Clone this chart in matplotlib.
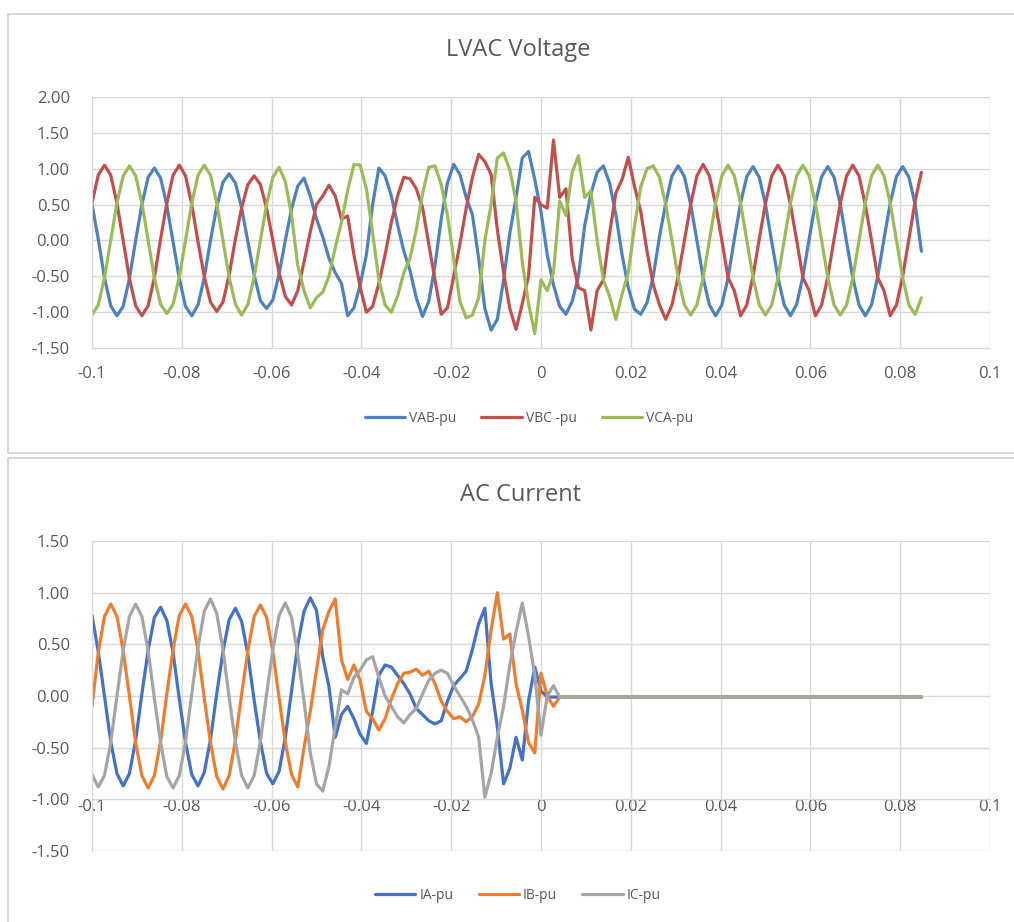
import matplotlib.pyplot as plt
import numpy as np

plt.rcParams['font.family'] = ['Open Sans', 'DejaVu Sans']

# sample spacing of the recording (30 electrical degrees at 60 Hz)
STEP = 1.0 / 720
T_START = -0.1

# LVAC voltage, per unit, one value per sample
vab = [0.50, 0.02, -0.52, -0.91, -1.05, -0.92, -0.53, 0.00, 0.50, 0.88,
       1.01, 0.87, 0.49, -0.02, -0.53, -0.92, -1.05, -0.90, -0.52, 0.00,
       0.47, 0.81, 0.93, 0.80, 0.45, -0.02, -0.48, -0.84, -0.95, -0.83,
       -0.47, 0.00, 0.44, 0.76, 0.87, 0.62, 0.30, 0.05, -0.25, -0.45,
       -0.60, -1.05, -0.94, -0.62, -0.20, 0.50, 1.01, 0.90, 0.62, 0.22,
       -0.15, -0.42, -0.80, -1.06, -0.85, -0.35, 0.30, 0.80, 1.06, 0.92,
       0.60, 0.36, -0.25, -0.95, -1.25, -1.10, -0.55, 0.10, 0.60, 1.15,
       1.24, 0.85, 0.40, -0.20, -0.62, -0.92, -1.03, -0.85, -0.50, 0.20,
       0.65, 0.95, 1.04, 0.80, 0.36, -0.20, -0.66, -0.96, -1.03, -0.87,
       -0.50, 0.05, 0.52, 0.90, 1.04, 0.89, 0.50, 0.00, -0.52, -0.90,
       -1.05, -0.90, -0.52, 0.02, 0.52, 0.89, 1.03, 0.88, 0.50, -0.02,
       -0.52, -0.90, -1.05, -0.89, -0.50, 0.02, 0.52, 0.89, 1.03, 0.88,
       0.50, -0.02, -0.52, -0.90, -1.05, -0.90, -0.50, 0.02, 0.52, 0.89,
       1.03, 0.88, 0.50, -0.15]
vbc = [0.52, 0.91, 1.05, 0.91, 0.52, 0.00, -0.53, -0.91, -1.05, -0.91,
       -0.52, 0.02, 0.52, 0.91, 1.05, 0.90, 0.50, -0.02, -0.50, -0.86,
       -0.99, -0.86, -0.48, 0.02, 0.46, 0.78, 0.90, 0.78, 0.45, 0.00,
       -0.45, -0.78, -0.90, -0.70, -0.30, 0.12, 0.50, 0.62, 0.77, 0.62,
       0.30, 0.34, -0.20, -0.65, -1.00, -0.92, -0.60, -0.20, 0.25, 0.62,
       0.88, 0.86, 0.72, 0.46, -0.05, -0.55, -1.03, -0.94, -0.50, -0.05,
       0.45, 0.88, 1.20, 1.10, 0.92, 0.15, -0.45, -0.95, -1.24, -0.88,
       -0.50, 0.60, 0.50, 0.45, 1.40, 0.60, 0.72, -0.25, -0.66, -0.70,
       -1.25, -0.70, -0.55, 0.10, 0.66, 0.85, 1.16, 0.75, 0.40, -0.15,
       -0.62, -0.90, -1.10, -0.90, -0.50, 0.00, 0.50, 0.90, 1.06, 0.90,
       0.50, 0.00, -0.52, -0.70, -1.05, -0.90, -0.50, 0.02, 0.52, 0.90,
       1.05, 0.90, 0.50, 0.00, -0.52, -0.70, -1.05, -0.90, -0.50, 0.02,
       0.52, 0.90, 1.05, 0.90, 0.50, 0.00, -0.52, -0.70, -1.05, -0.90,
       -0.50, 0.02, 0.55, 0.95]
vca = [-1.04, -0.90, -0.52, 0.00, 0.52, 0.90, 1.04, 0.90, 0.52, 0.00,
       -0.52, -0.89, -1.02, -0.89, -0.51, 0.00, 0.52, 0.91, 1.05, 0.91,
       0.52, 0.00, -0.52, -0.89, -1.04, -0.89, -0.51, 0.00, 0.50, 0.88,
       1.02, 0.82, 0.35, -0.35, -0.70, -0.94, -0.80, -0.72, -0.50, -0.10,
       0.25, 0.70, 1.06, 1.05, 0.72, 0.10, -0.55, -0.90, -1.00, -0.78,
       -0.45, -0.25, 0.15, 0.65, 1.02, 1.04, 0.78, 0.35, -0.25, -0.85,
       -1.08, -1.04, -0.80, 0.00, 0.50, 1.15, 1.22, 0.98, 0.55, -0.30,
       -0.88, -1.30, -0.55, -0.70, -0.45, 0.55, 0.35, 0.95, 1.18, 0.60,
       0.69, 0.00, -0.55, -0.78, -1.10, -0.75, -0.45, 0.20, 0.75, 1.00,
       1.04, 0.88, 0.50, 0.00, -0.52, -0.90, -1.04, -0.90, -0.52, 0.00,
       0.52, 0.90, 1.05, 0.90, 0.52, 0.00, -0.52, -0.90, -1.04, -0.90,
       -0.52, 0.00, 0.52, 0.90, 1.05, 0.90, 0.52, 0.00, -0.52, -0.90,
       -1.04, -0.90, -0.52, 0.00, 0.52, 0.90, 1.05, 0.90, 0.52, 0.00,
       -0.52, -0.90, -1.03, -0.80]

# AC current, per unit; the last value is the end of the flat tail
ia = [0.78, 0.43, 0.00, -0.44, -0.75, -0.87, -0.75, -0.43, 0.02, 0.44,
      0.76, 0.86, 0.73, 0.42, -0.03, -0.45, -0.76, -0.87, -0.74, -0.42,
      0.02, 0.43, 0.74, 0.85, 0.72, 0.40, -0.04, -0.44, -0.75, -0.85,
      -0.73, -0.40, 0.05, 0.50, 0.82, 0.95, 0.83, 0.38, 0.09, -0.40,
      -0.18, -0.10, -0.22, -0.37, -0.46, -0.15, 0.20, 0.30, 0.28, 0.20,
      0.12, 0.02, -0.12, -0.18, -0.24, -0.27, -0.24, -0.05, 0.10, 0.17,
      0.24, 0.45, 0.70, 0.85, 0.12, -0.30, -0.85, -0.70, -0.40, -0.62,
      -0.05, 0.28, 0.05, -0.01, -0.01, -0.01, -0.01]
ib = [-0.10, 0.42, 0.77, 0.89, 0.77, 0.44, 0.00, -0.45, -0.77, -0.89,
      -0.77, -0.44, 0.02, 0.45, 0.78, 0.89, 0.77, 0.44, -0.02, -0.45,
      -0.78, -0.90, -0.77, -0.43, 0.02, 0.44, 0.77, 0.88, 0.76, 0.43,
      -0.02, -0.45, -0.76, -0.88, -0.50, -0.15, 0.25, 0.64, 0.82, 0.94,
      0.35, 0.16, 0.30, 0.15, -0.15, -0.22, -0.33, -0.22, -0.03, 0.12,
      0.22, 0.23, 0.26, 0.20, 0.24, 0.12, -0.05, -0.15, -0.22, -0.20,
      -0.25, -0.20, -0.08, 0.20, 0.64, 1.00, 0.55, 0.60, 0.12, -0.14,
      -0.45, -0.55, 0.22, 0.00, -0.10, -0.01, -0.01]
ic = [-0.76, -0.88, -0.77, -0.45, 0.00, 0.44, 0.77, 0.89, 0.77, 0.44,
      -0.02, -0.45, -0.78, -0.89, -0.77, -0.44, 0.02, 0.47, 0.82, 0.94,
      0.80, 0.45, -0.02, -0.45, -0.77, -0.89, -0.77, -0.44, 0.02, 0.45,
      0.78, 0.90, 0.76, 0.40, -0.05, -0.55, -0.85, -0.92, -0.68, -0.30,
      0.06, 0.02, 0.18, 0.25, 0.35, 0.38, 0.18, 0.00, -0.10, -0.20,
      -0.26, -0.18, -0.12, 0.02, 0.15, 0.22, 0.25, 0.22, 0.10, 0.00,
      -0.10, -0.23, -0.40, -0.98, -0.75, -0.40, -0.10, 0.30, 0.62, 0.90,
      0.58, 0.20, -0.38, 0.00, 0.10, -0.01, -0.01]

xticks = [-0.1, -0.08, -0.06, -0.04, -0.02, 0, 0.02, 0.04, 0.06, 0.08, 0.1]
xtick_labels = ['-0.1', '-0.08', '-0.06', '-0.04', '-0.02', '0',
                '0.02', '0.04', '0.06', '0.08', '0.1']

t = T_START + STEP * np.arange(len(vab))
# current samples stop after the trip, then one point at the last time stamp
t_cur = np.append(t[:len(ia) - 1], t[-1])

TXT = '#595959'
GRID = '#d9d9d9'

fig = plt.figure(figsize=(10.14, 9.22), dpi=100)
W, H = 1014.0, 922.0

# chart frames
fig.add_artist(plt.Rectangle((8 / W, 1 - 453 / H), 1.05, 439 / H, transform=fig.transFigure,
                             fill=False, edgecolor='#d0d0d0', lw=1.2))
fig.add_artist(plt.Rectangle((8 / W, -0.05), 1.05, 1 - 458 / H + 0.05, transform=fig.transFigure,
                             fill=False, edgecolor='#d0d0d0', lw=1.2))


def style(ax, ylim, yticks, xpad):
    ax.set_xlim(-0.1, 0.1)
    ax.set_ylim(*ylim)
    ax.set_xticks(xticks)
    ax.set_xticklabels(xtick_labels)
    ax.set_yticks(yticks)
    ax.set_yticklabels(['%.2f' % v for v in yticks])
    ax.grid(True, color=GRID, lw=1)
    ax.set_axisbelow(True)
    for s in ['top', 'right']:
        ax.spines[s].set_visible(False)
    for s in ['left', 'bottom']:
        ax.spines[s].set_color(GRID)
    ax.tick_params(axis='both', length=0, labelsize=12, colors=TXT)
    ax.tick_params(axis='y', pad=16)
    ax.tick_params(axis='x', pad=xpad)


line_kw = dict(lw=2.3, solid_joinstyle='round', solid_capstyle='round')

ax1 = fig.add_axes([92 / W, 1 - 348 / H, 898 / W, 251 / H])
style(ax1, (-1.5, 2.0), [-1.5, -1.0, -0.5, 0.0, 0.5, 1.0, 1.5, 2.0], 13)
l1, = ax1.plot(t, vab, color='#4f81bd', label='VAB-pu', **line_kw)
l2, = ax1.plot(t, vbc, color='#c0504d', label='VBC -pu', **line_kw)
l3, = ax1.plot(t, vca, color='#9bbb59', label='VCA-pu', **line_kw)

ax2 = fig.add_axes([92 / W, 1 - 851 / H, 898 / W, 310 / H])
style(ax2, (-1.5, 1.5), [-1.5, -1.0, -0.5, 0.0, 0.5, 1.0, 1.5], 0)
ax2.spines['bottom'].set_position(('data', -1.0))
m1, = ax2.plot(t_cur, ia, color='#4472c4', label='IA-pu', **line_kw)
m2, = ax2.plot(t_cur, ib, color='#ed7d31', label='IB-pu', **line_kw)
m3, = ax2.plot(t_cur, ic, color='#a5a5a5', label='IC-pu', **line_kw)

fig.text(518 / W, 1 - 50 / H, 'LVAC Voltage', ha='center', va='center', fontsize=17, color=TXT)
fig.text(520 / W, 1 - 495 / H, 'AC Current', ha='center', va='center', fontsize=17, color=TXT)

leg_kw = dict(loc='center', ncol=3, frameon=False, fontsize=10, handlelength=2.9,
              handletextpad=0.3, columnspacing=1.8, labelcolor=TXT)
fig.legend(handles=[l1, l2, l3], bbox_to_anchor=(529 / W, 1 - 418 / H), **leg_kw)
fig.legend(handles=[m1, m2, m3], bbox_to_anchor=(518 / W, 1 - 895 / H), **leg_kw)

fig.savefig('out.png', dpi=100)
